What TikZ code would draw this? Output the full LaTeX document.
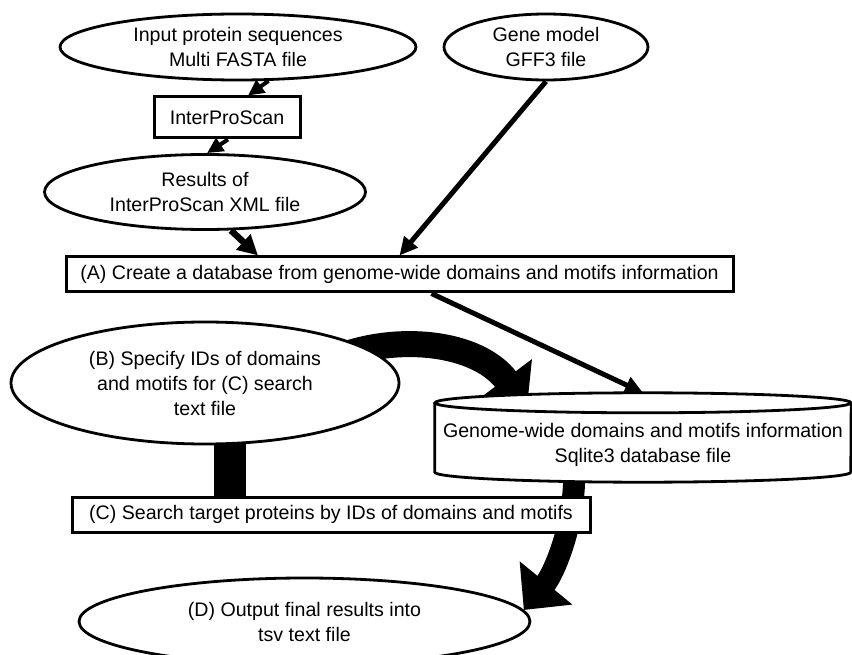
\documentclass[tikz,border=0pt]{standalone}
\usepackage{fontspec}
\setmainfont{Liberation Sans}
\usetikzlibrary{arrows.meta,shapes.geometric}
\pgfdeclarelayer{bg}
\pgfsetlayers{bg,main}
\begin{document}
\begin{tikzpicture}[x=1pt,y=-1pt,
  every node/.style={font=\fontsize{19.6}{25}\selectfont, align=center, inner sep=0pt},
  oval/.style={ellipse, draw, line width=2.8pt, fill=white, inner ysep=-14pt},
  box/.style={rectangle, draw, line width=3pt, fill=white},
  plain/.style={rectangle, inner sep=0pt},
  thinarrow/.style={line width=4pt, -{Triangle[length=16pt,width=15pt]}},
  midarrow/.style={line width=5pt, -{Triangle[length=18pt,width=17pt]}},
  boldarrow/.style={line width=6.5pt, -{Triangle[length=20pt,width=20pt]}},
  fatarrow/.style={line width=#1}]
\useasboundingbox (0,0) rectangle (852,655);

% nodes
\node[oval, minimum width=356pt, minimum height=66pt] (inp) at (238,47) {Input protein sequences\\Multi FASTA file};
\node[oval, minimum width=204pt, minimum height=66pt] (gff) at (546,47) {Gene model\\GFF3 file};
\node[box, minimum width=146pt, minimum height=41pt] (ips) at (227,117.5) {InterProScan};
\node[oval, minimum width=321pt, minimum height=75pt] (res) at (205,192) {Results of\\InterProScan XML file};
\node[box, minimum width=667pt, minimum height=35pt] (A) at (399.5,274.5) {(A) Create a database from genome-wide domains and motifs information};
\node[oval, minimum width=388pt, minimum height=122pt] (B) at (205,383) {(B) Specify IDs of domains\\and motifs for (C) search\\text file};
\node[plain, minimum width=416pt, minimum height=69pt] (db) at (643,437.5) {};
\node[oval, minimum width=451pt, minimum height=87pt] (D) at (304.5,621.5) {(D) Output final results into\\tsv text file};

% cylinder
\fill[white] (db.north west) -- (db.south west)
  arc[start angle=180, end angle=360, x radius=208pt, y radius=10pt]
  -- (db.north east)
  arc[start angle=0, end angle=180, x radius=208pt, y radius=10pt] -- cycle;
\draw[line width=2.8pt] (db.north west) -- (db.south west)
  arc[start angle=180, end angle=360, x radius=208pt, y radius=10pt]
  -- (db.north east);
\draw[line width=2.8pt] (db.north) ellipse[x radius=208pt, y radius=10pt];
\node[plain] (dbt) at (643,445) {Genome-wide domains and motifs information\\Sqlite3 database file};

\node[box, minimum width=518pt, minimum height=35pt] (C) at (331,514.5) {(C) Search target proteins by IDs of domains and motifs};

% thick arrows behind
\begin{pgfonlayer}{bg}
\draw[fatarrow=26pt, -{Triangle[length=36pt,width=64pt]}]
  ([shift={(-12,6)}]B.13) .. controls (410,335) and (480,345) .. ([xshift=-116pt,yshift=-5pt]db.north);
\draw[fatarrow=32pt] ([xshift=25pt,yshift=10pt]B.south) -- ([xshift=-101pt]C.north);
\draw[fatarrow=22pt, -{Triangle[length=35pt,width=66pt]}]
  ([xshift=-69pt,yshift=2pt]db.south) .. controls (576,520) and (555,572) .. (D.3);
\end{pgfonlayer}

% thin arrows
\draw[thinarrow] (inp.-48) -- ([xshift=21pt]ips.north);
\draw[thinarrow] ([xshift=1pt]ips.south) -- (res.87);
\draw[boldarrow] (res.-56) -- ([xshift=-141.5pt]A.north);
\draw[midarrow] (gff.south) -- (A.north);
\draw[midarrow] ([xshift=32pt]A.south) -- ([yshift=10pt]db.north);
\end{tikzpicture}
\end{document}
